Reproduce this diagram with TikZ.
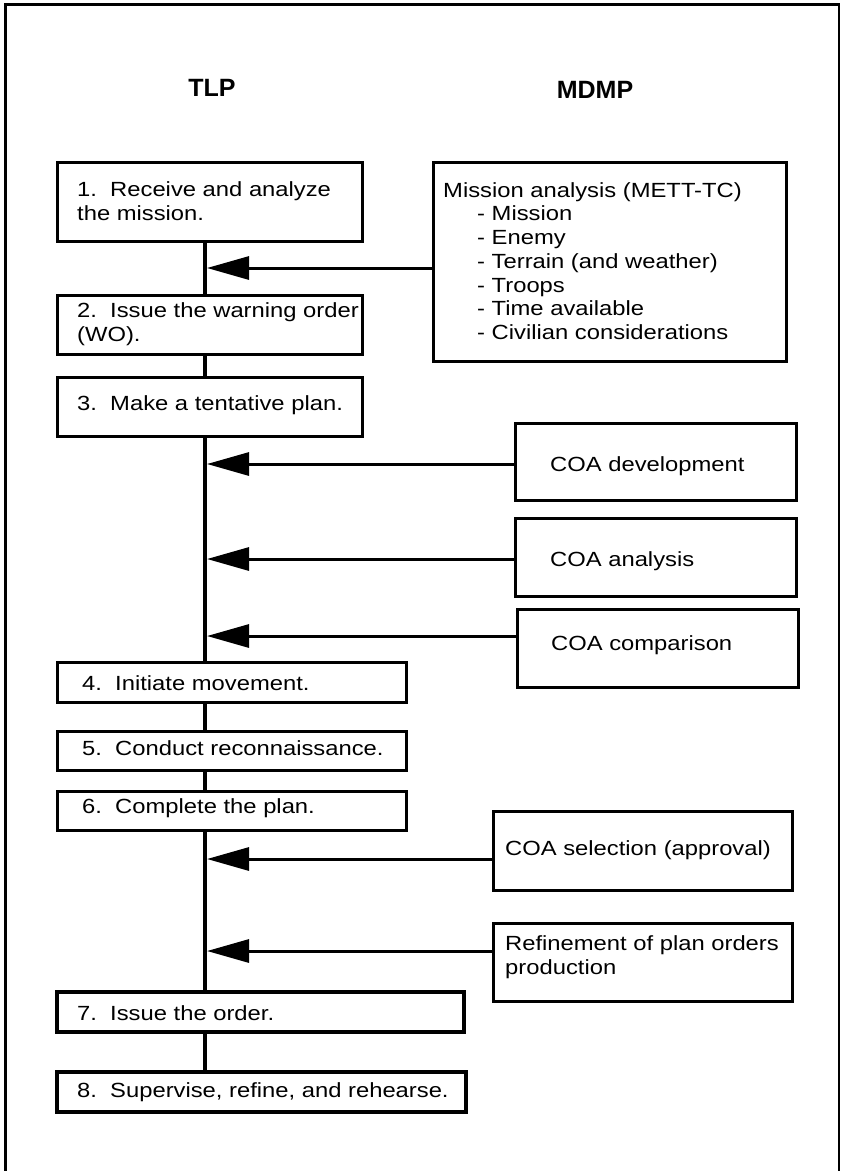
\documentclass[tikz,border=0pt]{standalone}
\usepackage{fontspec}
\setmainfont{Liberation Sans}[FakeStretch=1.16]
\newfontfamily\headfont{Liberation Sans}
\usetikzlibrary{arrows.meta}
\begin{document}
\begin{tikzpicture}[x=1pt,y=-1pt,
  box/.style={draw, line width=3pt, inner sep=0pt},
  thickbox/.style={draw, line width=4.5pt, inner sep=0pt},
  txt/.style={anchor=west, align=left, inner sep=0pt, font=\fontsize{20.5}{23.7}\selectfont},
  head/.style={inner sep=0pt, font=\headfont\bfseries\fontsize{25}{30}\selectfont},
  spine/.style={line width=3.5pt},
  feed/.style={line width=3pt, -{Triangle[length=42pt,width=23pt]}}]
\useasboundingbox[fill=white] (0,0) rectangle (841,1171);

% outer frame (bottom edge lies outside the picture)
\draw[line width=3pt] (5,1171) -- (5,4) -- (840,4);
\draw[line width=2pt] (839,4) -- (839,1171);

% headings
\node[head] (tlp) at (212,88) {TLP};
\node[head] (mdmp) at (595,90) {MDMP};

% TLP boxes
\node[box, minimum width=305pt, minimum height=79pt] (b1) at (209.5,201.5) {};
\node[box, minimum width=305pt, minimum height=59pt] (b2) at (209.5,324.5) {};
\node[box, minimum width=305pt, minimum height=59pt] (b3) at (209.5,406.5) {};
\node[box, minimum width=349pt, minimum height=40pt] (b4) at (231.5,682) {};
\node[box, minimum width=349pt, minimum height=39pt] (b5) at (231.5,750.5) {};
\node[box, minimum width=349pt, minimum height=39pt] (b6) at (231.5,810.5) {};
\node[thickbox, minimum width=407pt, minimum height=40pt] (b7) at (260.5,1012) {};
\node[thickbox, minimum width=409pt, minimum height=40pt] (b8) at (261.5,1092) {};

\node[txt] (t1) at (77,201) {1.~~Receive and analyze\\the mission.};
\node[txt] (t2) at (77,324) {2.~~Issue the warning order\\(WO).};
\node[txt] (t3) at (77,405) {3.~~Make a tentative plan.};
\node[txt] (t4) at (82,683) {4.~~Initiate movement.};
\node[txt] (t5) at (82,748) {5.~~Conduct reconnaissance.};
\node[txt] (t6) at (82,808) {6.~~Complete the plan.};
\node[txt] (t7) at (77,1013) {7.~~Issue the order.};
\node[txt] (t8) at (77,1092) {8.~~Supervise, refine, and rehearse.};

% MDMP boxes
\node[box, minimum width=353pt, minimum height=199pt] (mis) at (609.5,261.5) {};
\node[box, minimum width=281pt, minimum height=77pt] (dev) at (655.5,461.5) {};
\node[box, minimum width=281pt, minimum height=78pt] (ana) at (655.5,557) {};
\node[box, minimum width=281pt, minimum height=78pt] (cmp) at (657.5,648) {};
\node[box, minimum width=299pt, minimum height=79pt] (sel) at (642.5,850.5) {};
\node[box, minimum width=299pt, minimum height=78pt] (ref) at (642.5,962) {};

\node[txt] (tm) at (443,261) {Mission analysis (METT-TC)\\
  \hspace*{34pt}- Mission\\
  \hspace*{34pt}- Enemy\\
  \hspace*{34pt}- Terrain (and weather)\\
  \hspace*{34pt}- Troops\\
  \hspace*{34pt}- Time available\\
  \hspace*{34pt}- Civilian considerations};
\node[txt] (tdev) at (550,466) {COA development};
\node[txt] (tana) at (550,561) {COA analysis};
\node[txt] (tcmp) at (551,645) {COA comparison};
\node[txt] (tsel) at (505,850) {COA selection (approval)};
\node[txt] (tref) at (505,957) {Refinement of plan orders\\production};

% spine
\coordinate (sp) at (205,0);
\draw[spine] (b1.south -| sp) -- (b2.north -| sp);
\draw[spine] (b2.south -| sp) -- (b3.north -| sp);
\draw[spine] (b3.south -| sp) -- (b4.north -| sp);
\draw[spine] (b4.south -| sp) -- (b5.north -| sp);
\draw[spine] (b5.south -| sp) -- (b6.north -| sp);
\draw[spine] (b6.south -| sp) -- (b7.north -| sp);
\draw[spine] (b7.south -| sp) -- (b8.north -| sp);

% feeds
\coordinate (e1) at (207,268);
\coordinate (e2) at (207,464);
\coordinate (e3) at (207,559);
\coordinate (e4) at (207,636);
\coordinate (e5) at (207,859);
\coordinate (e6) at (207,951);
\draw[feed] (mis.west |- e1) -- (e1);
\draw[feed] (dev.west |- e2) -- (e2);
\draw[feed] (ana.west |- e3) -- (e3);
\draw[feed] (cmp.west |- e4) -- (e4);
\draw[feed] (sel.west |- e5) -- (e5);
\draw[feed] (ref.west |- e6) -- (e6);
\end{tikzpicture}
\end{document}
